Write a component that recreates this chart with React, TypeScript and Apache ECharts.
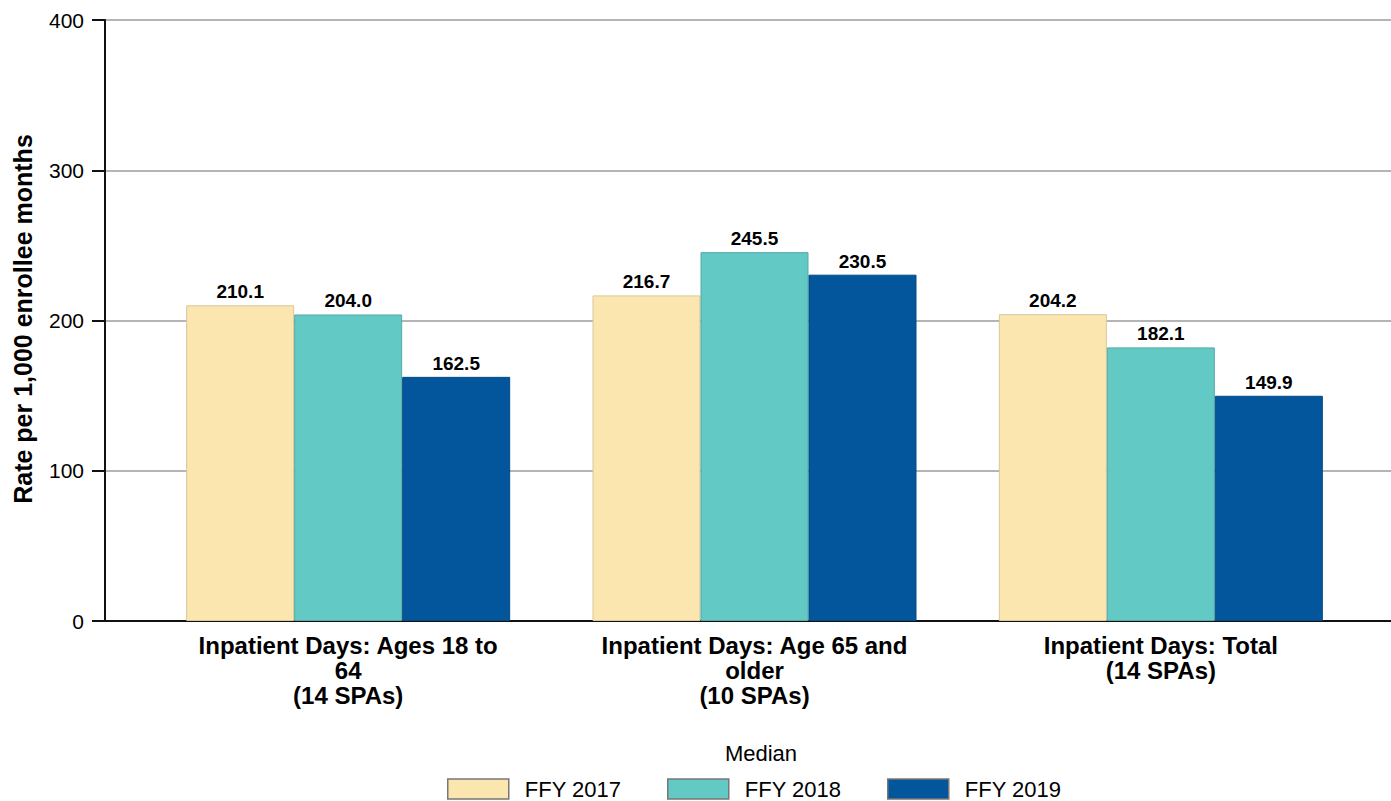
import React, { useEffect, useRef } from "react";
import * as echarts from "echarts";

const categories = [
  "Inpatient Days: Ages 18 to\n64\n(14 SPAs)",
  "Inpatient Days: Age 65 and\nolder\n(10 SPAs)",
  "Inpatient Days: Total\n(14 SPAs)",
];
const seriesNames = ["FFY 2017", "FFY 2018", "FFY 2019"];
const ffy2017 = [210.1, 216.7, 204.2];
const ffy2018 = [204.0, 245.5, 182.1];
const ffy2019 = [162.5, 230.5, 149.9];
const yTicks = { min: 0, max: 400, interval: 100 };
const colors = ["#FCE6B0", "#62C9C4", "#04569C"];
const borders = ["#d9c79a", "#52aaa6", "#034a86"];

export default function App() {
  const ref = useRef<HTMLDivElement>(null);
  useEffect(() => {
    if (!ref.current) return;
    const chart = echarts.init(ref.current, null, { renderer: "svg" });
    const font = "'Liberation Sans', Arial, Helvetica, sans-serif";
    const values = [ffy2017, ffy2018, ffy2019];
    const legendLefts = [447, 667, 887];
    chart.setOption({
      animation: false,
      textStyle: { fontFamily: font },
      grid: [
        { left: 105, right: 0, top: 20, height: 601 },
        { left: 145, width: 1219, top: 20, height: 601 },
      ],
      xAxis: [
        {
          type: "category",
          gridIndex: 0,
          data: categories,
          axisLine: { show: true, lineStyle: { color: "#111", width: 2 } },
          axisTick: { show: false },
          axisLabel: { show: false },
        },
        {
          type: "category",
          gridIndex: 1,
          data: categories,
          axisLine: { show: false },
          axisTick: { show: false },
          axisLabel: {
            margin: 12,
            fontSize: 24,
            fontWeight: "bold",
            color: "#000",
            lineHeight: 25,
            fontFamily: font,
          },
        },
      ],
      yAxis: [
        {
          type: "value",
          gridIndex: 0,
          min: yTicks.min,
          max: yTicks.max,
          interval: yTicks.interval,
          axisLine: { show: true, lineStyle: { color: "#111", width: 2 } },
          axisTick: { show: true, length: 13, lineStyle: { color: "#111", width: 2 } },
          axisLabel: { margin: 21, fontSize: 21, color: "#000", fontFamily: font },
          splitLine: { show: true, lineStyle: { color: "#b5b5b5", width: 2 } },
        },
        {
          type: "value",
          gridIndex: 1,
          min: yTicks.min,
          max: yTicks.max,
          interval: yTicks.interval,
          show: false,
          splitLine: { show: false },
        },
      ],
      legend: seriesNames.map((n, i) => ({
        data: [n],
        left: legendLefts[i],
        top: 778,
        icon: "rect",
        itemWidth: 61,
        itemHeight: 20,
        padding: 0,
        itemStyle: { borderColor: "#777", borderWidth: 1.5 },
        textStyle: {
          fontSize: 22,
          lineHeight: 20,
          color: "#000",
          fontFamily: font,
          padding: [0, 0, 0, 11],
        },
      })),
      graphic: [
        {
          type: "text",
          x: 761,
          y: 753,
          style: {
            text: "Median",
            fontSize: 22,
            fill: "#000",
            fontFamily: font,
            align: "center",
            verticalAlign: "middle",
          },
        },
        {
          type: "text",
          x: 23,
          y: 319,
          rotation: Math.PI / 2,
          style: {
            text: "Rate per 1,000 enrollee months",
            fontSize: 25,
            fontWeight: "bold",
            fill: "#000",
            fontFamily: font,
            align: "center",
            verticalAlign: "middle",
          },
        },
      ],
      series: seriesNames.map((n, i) => ({
        name: n,
        type: "bar",
        xAxisIndex: 1,
        yAxisIndex: 1,
        data: values[i],
        barWidth: 108,
        barGap: "0%",
        itemStyle: { color: colors[i], borderColor: borders[i], borderWidth: 1 },
        label: {
          show: true,
          position: "top",
          distance: 4,
          formatter: (p: any) => p.value.toFixed(1),
          fontSize: 19,
          fontWeight: "bold",
          color: "#000",
          fontFamily: font,
        },
      })),
    });
    return () => chart.dispose();
  }, []);
  return <div ref={ref} style={{ width: 1391, height: 801, position: "absolute", left: 0, top: 0 }} />;
}
